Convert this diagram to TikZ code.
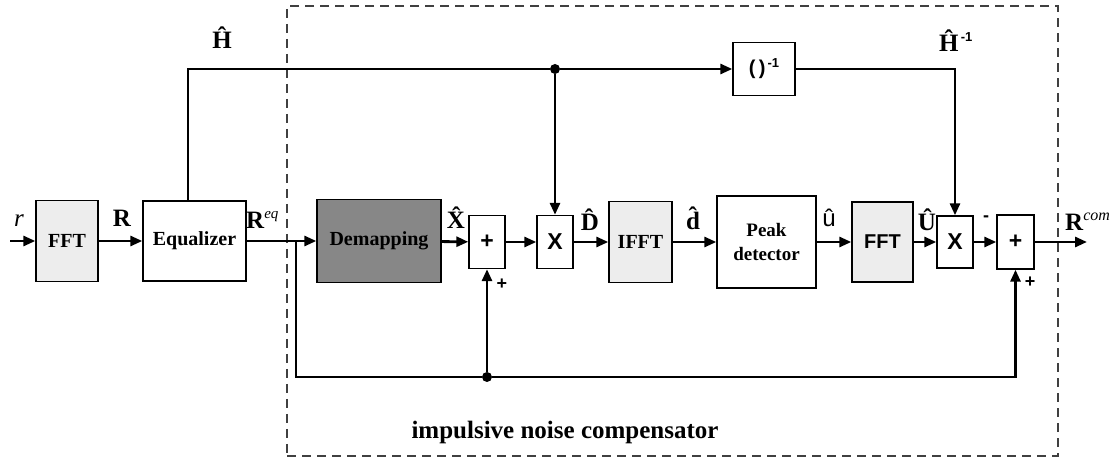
\documentclass[tikz,border=0pt]{standalone}
\usepackage{fontspec}
\setmainfont{Liberation Serif}
\newfontfamily\arial{Liberation Sans}
\usetikzlibrary{arrows.meta}
\begin{document}
\begin{tikzpicture}[x=1pt,y=-1pt,
  blk/.style={draw, line width=1.4pt, inner sep=0pt, align=center,
    font=\fontsize{20}{22}\selectfont\bfseries},
  opbox/.style={blk, minimum width=36pt, minimum height=53pt,
    font=\arial\fontsize{23}{24}\selectfont\bfseries},
  light/.style={fill=gray!14},
  dark/.style={fill=black!47},
  wire/.style={line width=2.8pt},
  conn/.style={line width=2.8pt, -{Triangle[length=12pt,width=10pt]}},
  lab/.style={font=\fontsize{25}{27}\selectfont\bfseries, inner sep=0pt},
  sgn/.style={font=\arial\fontsize{18}{18}\selectfont\bfseries, inner sep=0pt},
  dot/.style={circle, fill, inner sep=0pt, minimum size=10pt}
]
\useasboundingbox (0,0) rectangle (1120,462);

% dashed compensator frame
\node[draw, dash pattern=on 9pt off 6pt, line width=1.1pt, gray!50!black,
  minimum width=771pt, minimum height=450pt, inner sep=0pt] (comp) at (672.5,231) {};
\node[font=\fontsize{25}{27}\selectfont\bfseries] (cap) at (565,432) {impulsive noise compensator};

% blocks
\node[blk, light, minimum width=62pt, minimum height=81pt] (F1) at (67,241) {FFT};
\node[blk, minimum width=103pt, minimum height=80pt] (Eq) at (194.5,241) {Equalizer};
\node[blk, dark, minimum width=124pt, minimum height=83pt] (Dem) at (379,241) {Demapping};
\node[opbox] (P1) at (487,242) {+};
\node[opbox] (X1) at (555,242) {X};
\node[blk, light, minimum width=63pt, minimum height=81pt] (IF) at (640.5,242) {IFFT};
\node[blk, minimum width=99pt, minimum height=92pt, font=\fontsize{19}{24}\selectfont\bfseries] (PD) at (766.5,242) {Peak\\detector};
\node[blk, light, minimum width=61pt, minimum height=80pt,
  font=\arial\fontsize{20}{22}\selectfont\bfseries] (F2) at (882.5,242) {FFT};
\node[opbox, minimum height=52pt] (X2) at (955,242) {X};
\node[opbox, minimum width=37pt, minimum height=54pt] (P2) at (1015.5,242) {+};
\node[blk, minimum width=62pt, minimum height=53pt,
  font=\arial\fontsize{20}{22}\selectfont\bfseries] (Hi) at (764,69) {(\,)\raisebox{7pt}{\fontsize{13}{13}\selectfont\,-1}};

% coordinates and junctions
\coordinate (in) at (10,241);
\coordinate (out) at (1087,242);
\coordinate (j) at (296,241);
\node[dot] (hdot) at (555,69) {};
\node[dot] (bdot) at (487,377) {};

% connectors
\draw[conn] (in) -- (F1);
\draw[conn] (F1) -- (Eq);
\draw[wire] (Eq.east) -- (j);
\draw[conn] (j) -- (Dem.west);
\draw[wire] (j) |- (bdot);
\draw[conn] (bdot) -- (P1.south);
\draw[conn] (bdot) -| (P2.south);
\draw[conn] (Dem) -- (P1);
\draw[conn] (P1) -- (X1);
\draw[conn] (X1) -- (IF);
\draw[conn] (IF) -- (PD);
\draw[conn] (PD) -- (F2);
\draw[conn] (F2) -- (X2);
\draw[conn] (X2) -- (P2);
\draw[conn] (P2) -- (out);
\draw[wire] ([xshift=-6.5pt]Eq.north) |- (hdot);
\draw[conn] (hdot) -- (Hi.west);
\draw[conn] (hdot) -- (X1.north);
\draw[conn] (Hi.east) -| (X2.north);

% labels
\node[font=\fontsize{25}{27}\selectfont\itshape, inner sep=0pt] (lr) at (19,221) {r};
\node[lab] (lR) at (122,218) {R};
\node[lab, anchor=west] (lReq) at (246,220) {R\raisebox{10pt}{\fontsize{15}{15}\selectfont\mdseries\itshape eq}};
\node[lab] (lH) at (222,38) {\^{H}};
\node[lab, anchor=west] (lHi) at (939,41) {\^{H}\raisebox{10pt}{\arial\fontsize{13}{13}\selectfont\bfseries\,-1}};
\node[lab] (lX) at (456,218) {\^{X}};
\node[lab] (lD) at (590,220) {\^{D}};
\node[lab] (ld) at (693,218) {\^{d}};
\node[font=\arial\fontsize{24}{26}\selectfont, inner sep=0pt] (lu) at (829,218) {û};
\node[lab] (lU) at (927,220) {\^{U}};
\node[sgn] (lm) at (986,219) {-};
\node[sgn] (lp1) at (502,284) {+};
\node[sgn] (lp2) at (1030,282) {+};
\node[lab, anchor=west] (lRc) at (1065,222) {R\raisebox{10pt}{\fontsize{16}{16}\selectfont\mdseries\itshape com}};
\end{tikzpicture}
\end{document}
